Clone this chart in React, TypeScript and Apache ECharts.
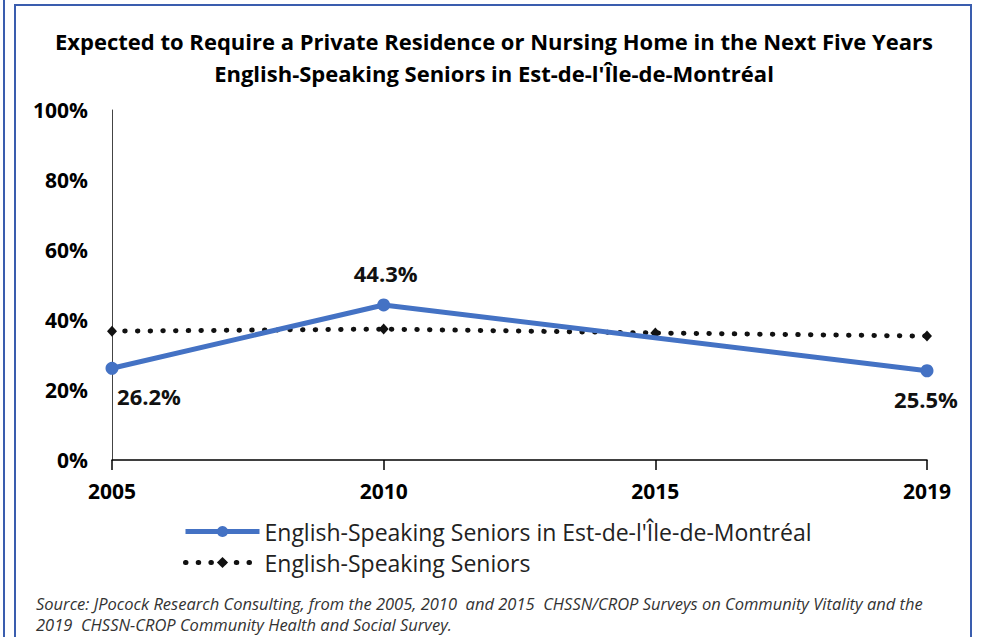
import React, { useEffect, useRef } from "react";
import * as echarts from "echarts";

const titleLines = [
  "Expected to Require a Private Residence or Nursing Home in the Next Five Years",
  "English-Speaking Seniors in Est-de-l'Île-de-Montréal",
];
const years = ["2005", "2010", "2015", "2019"];
const regionName = "English-Speaking Seniors in Est-de-l'Île-de-Montréal";
const regionValues: (number | null)[] = [26.2, 44.3, null, 25.5];
const allName = "English-Speaking Seniors";
const allValues = [36.8, 37.4, 36.3, 35.4];
const yTicks = { min: 0, max: 100, interval: 20 };
const sourceLines = [
  "Source: JPocock Research Consulting, from the 2005, 2010  and 2015  CHSSN/CROP Surveys on Community Vitality and the",
  "2019  CHSSN-CROP Community Health and Social Survey.",
];

const FONT = "'Open Sans', Roboto, sans-serif";
const BLUE = "#4472C4";
const FRAME = "#3A5DAE";
const DOTS: number[] = [0.5, 12.2];

// per-point label placement for the regional series
const labelPlacement: Record<number, { offset: [number, number]; position: string; distance: number }> = {
  0: { position: "bottom", distance: 10, offset: [37, 0] },
  1: { position: "top", distance: 14, offset: [2, 0] },
  3: { position: "bottom", distance: 11, offset: [-1, 0] },
};

export default function App() {
  const ref = useRef<HTMLDivElement>(null);
  useEffect(() => {
    document.body.style.margin = "0";
    const chart = echarts.init(ref.current!, null, { renderer: "svg" });
    const regionData = regionValues.map((v, i) => {
      const p = labelPlacement[i];
      if (v === null) return { value: null };
      return {
        value: v,
        label: p
          ? { show: true, position: p.position, distance: p.distance, offset: p.offset }
          : { show: false },
      };
    });
    chart.setOption({
      animation: false,
      backgroundColor: "#ffffff",
      textStyle: { fontFamily: FONT },
      graphic: [
        { type: "line", shape: { x1: 4, y1: 0, x2: 4, y2: 637 }, style: { stroke: FRAME, lineWidth: 2 } },
        { type: "line", shape: { x1: 15, y1: 5, x2: 15, y2: 637 }, style: { stroke: FRAME, lineWidth: 2 } },
        { type: "line", shape: { x1: 14, y1: 5, x2: 972, y2: 5 }, style: { stroke: FRAME, lineWidth: 2 } },
        { type: "line", shape: { x1: 971, y1: 5, x2: 971, y2: 637 }, style: { stroke: FRAME, lineWidth: 2 } },
        ...titleLines.map((t, i) => ({
          type: "text",
          x: 494,
          y: 41 + i * 32,
          style: {
            text: t,
            fontFamily: FONT,
            fontWeight: "bold",
            fontSize: 22,
            fill: "#000",
            textAlign: "center",
            textVerticalAlign: "middle",
          },
        })),
        ...sourceLines.map((t, i) => ({
          type: "text",
          x: 36,
          y: 603 + i * 21,
          style: {
            text: t,
            fontFamily: FONT,
            fontStyle: "italic",
            fontSize: 16.5,
            fill: "#333",
            textAlign: "left",
            textVerticalAlign: "middle",
          },
        })),
      ],
      grid: { left: 112, right: 54, top: 110, bottom: 177, containLabel: false },
      legend: {
        orient: "vertical",
        left: 183,
        top: 520,
        padding: 0,
        itemWidth: 74,
        itemHeight: 14,
        itemGap: 8,
        data: [
          { name: regionName, lineStyle: { width: 5, color: BLUE } },
          { name: allName, lineStyle: { width: 5, color: "#111", type: DOTS, cap: "round" } },
        ],
        textStyle: { fontFamily: FONT, fontSize: 23, color: "#222", lineHeight: 23 },
      },
      xAxis: {
        type: "category",
        data: years,
        boundaryGap: false,
        axisLine: { lineStyle: { color: "#000", width: 1.5 } },
        axisTick: { show: true, length: 10, lineStyle: { color: "#000", width: 1.5 }, alignWithLabel: true },
        axisLabel: { fontFamily: FONT, fontWeight: "bold", fontSize: 21, color: "#000", margin: 20 },
        splitLine: { show: false },
      },
      yAxis: {
        type: "value",
        min: yTicks.min,
        max: yTicks.max,
        interval: yTicks.interval,
        axisLine: { show: true, lineStyle: { color: "#444", width: 1 } },
        axisTick: { show: false },
        splitLine: { show: false },
        axisLabel: {
          formatter: "{value}%",
          fontFamily: FONT,
          fontWeight: "bold",
          fontSize: 21,
          color: "#000",
          margin: 24,
        },
      },
      series: [
        {
          name: allName,
          type: "line",
          data: allValues,
          symbol: "diamond",
          symbolSize: [10, 11],
          itemStyle: { color: "#111" },
          lineStyle: { color: "#111", width: 5, type: DOTS, cap: "round" },
          z: 2,
        },
        {
          name: regionName,
          type: "line",
          data: regionData,
          connectNulls: true,
          symbol: "circle",
          symbolSize: 13,
          itemStyle: { color: BLUE },
          lineStyle: { color: BLUE, width: 5 },
          label: {
            fontFamily: FONT,
            fontWeight: "bold",
            fontSize: 22,
            color: "#111",
            formatter: (p: any) => `${p.value}%`,
          },
          z: 3,
        },
      ],
    });
    return () => chart.dispose();
  }, []);
  return (
    <div
      ref={ref}
      style={{ position: "absolute", left: 0, top: 0, width: 981, height: 637 }}
    />
  );
}
